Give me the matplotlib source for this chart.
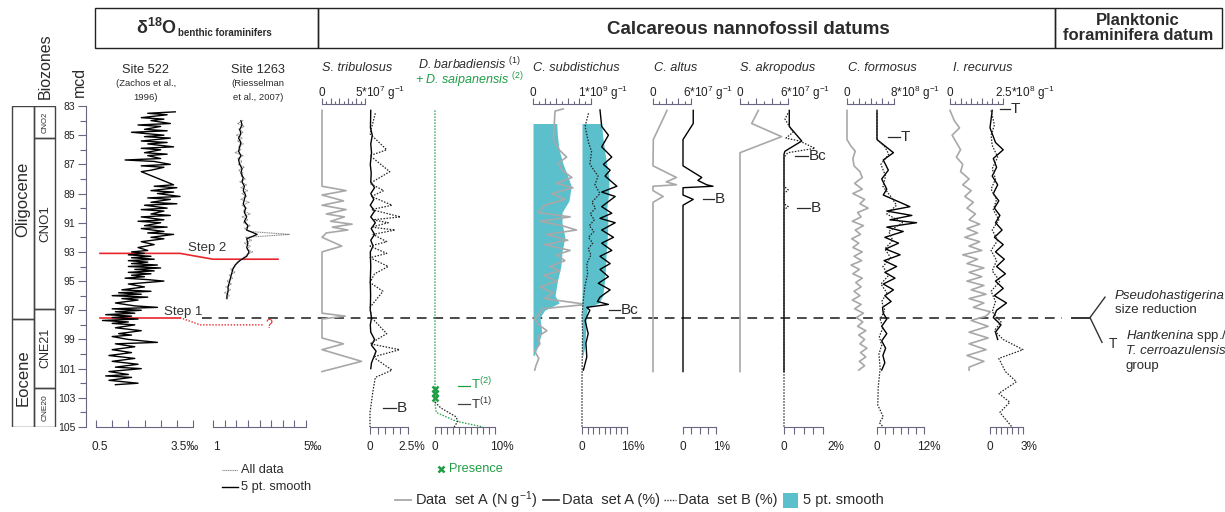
import matplotlib
matplotlib.use("Agg")
import matplotlib.pyplot as plt
from matplotlib.patches import Rectangle
from matplotlib.ticker import MultipleLocator, NullLocator

plt.rcParams['font.family'] = ['Liberation Sans', 'DejaVu Sans']
plt.rcParams['mathtext.fontset'] = 'custom'
plt.rcParams['mathtext.rm'] = 'Liberation Sans'
plt.rcParams['mathtext.it'] = 'Liberation Sans:italic'
plt.rcParams['mathtext.bf'] = 'Liberation Sans:bold'

# ---------------- data (depth in mcd) ----------------
# Site 522 benthic d18O
d522 = [83.4, 83.5, 83.6, 83.8, 83.9, 84.0, 84.2, 84.3, 84.4, 84.6,
        84.7, 84.8, 85.0, 85.1, 85.2, 85.4, 85.5, 85.6, 85.8, 85.9,
        86.0, 86.2, 86.3, 86.4, 86.6, 86.7, 86.8, 87.0, 87.1, 87.2,
        87.4, 87.5, 88.4, 88.5, 88.6, 88.8, 88.9, 89.0, 89.2, 89.3,
        89.4, 89.6, 89.7, 89.8, 90.0, 90.1, 90.2, 90.4, 90.5, 90.6,
        90.8, 90.9, 91.0, 91.2, 91.3, 91.4, 91.6, 91.7, 91.8, 92.0,
        92.1, 92.3, 92.5, 92.7, 92.9, 93.0, 93.1, 93.2, 93.3, 93.4,
        93.5, 93.6, 93.7, 93.8, 93.9, 94.0, 94.1, 94.2, 94.3, 94.4,
        94.5, 94.6, 94.7, 94.8, 94.9, 95.0, 95.2, 95.4, 95.6, 95.7,
        95.8, 95.9, 96.0, 96.1, 96.2, 96.3, 96.5, 96.7, 96.8, 96.9,
        97.0, 97.1, 97.2, 97.3, 97.4, 97.5, 97.6, 97.7, 97.8, 97.9,
        98.0, 98.2, 98.4, 98.6, 98.7, 98.8, 99.0, 99.2, 99.3, 99.5,
        99.7, 99.9, 100.1, 100.3, 100.5, 100.7, 100.9, 101.0, 101.2, 101.4,
        101.5, 101.6, 101.8, 102.0, 102.1]
o522 = [2.95, 2.1, 2.7, 1.9, 2.6, 2.2, 2.8, 1.8, 2.5, 2.0,
        2.7, 1.6, 2.6, 2.0, 2.8, 1.9, 2.7, 2.1, 2.9, 1.9,
        2.5, 2.0, 2.7, 2.1, 2.5, 1.4, 2.3, 2.8, 1.9, 2.6,
        2.2, 1.9, 2.9, 2.3, 3.0, 2.2, 2.9, 2.4, 3.1, 2.1,
        2.8, 2.2, 3.0, 2.0, 2.7, 1.9, 2.6, 2.2, 2.8, 1.9,
        2.6, 1.8, 2.5, 2.0, 2.7, 1.9, 2.6, 2.1, 2.9, 2.2,
        2.6, 1.9, 2.3, 1.8, 2.1, 1.6, 2.0, 1.5, 2.2, 1.6,
        2.3, 1.5, 2.1, 1.6, 2.4, 1.5, 2.5, 1.7, 2.3, 1.5,
        2.2, 1.6, 2.0, 1.4, 2.1, 2.6, 1.5, 2.0, 1.3, 2.2,
        1.2, 1.9, 1.0, 2.1, 1.3, 1.8, 1.1, 1.7, 2.4, 1.0,
        1.9, 1.1, 1.7, 0.8, 1.6, 1.0, 1.8, 0.7, 1.5, 1.0,
        1.7, 1.1, 1.9, 1.2, 1.6, 1.0, 1.5, 2.4, 1.1, 1.7,
        1.0, 1.6, 0.9, 1.7, 1.0, 1.8, 1.1, 1.9, 0.9, 1.5,
        0.8, 1.6, 0.9, 1.8, 1.1]

# Site 1263 benthic d18O: all data and 5 pt smooth
d1263_all = [84.0, 84.2, 84.4, 84.6, 84.8, 85.0, 85.2, 85.4, 85.6, 85.8,
             86.0, 86.2, 86.4, 86.6, 86.8, 87.0, 87.2, 87.4, 87.6, 87.8,
             88.0, 88.2, 88.4, 88.6, 88.8, 89.0, 89.2, 89.4, 89.6, 89.8,
             90.0, 90.2, 90.4, 90.6, 90.8, 91.0, 91.2, 91.4, 91.6, 91.8,
             92.0, 92.2, 92.4, 92.6, 92.8, 93.0, 93.2, 93.4, 93.6, 93.8,
             94.0, 94.2, 94.4, 94.6, 94.8, 95.0, 95.2, 95.4, 95.6, 95.8,
             96.0, 96.2]
o1263_all = [2.3, 2.05, 2.35, 2.1, 2.3, 2.0, 2.25, 2.05, 2.3, 2.1,
             2.2, 1.95, 2.3, 2.05, 2.25, 2.1, 2.35, 2.1, 2.3, 2.2,
             2.4, 2.15, 2.45, 2.2, 2.5, 2.25, 2.45, 2.2, 2.55, 2.25,
             2.45, 2.3, 2.6, 2.25, 2.5, 2.3, 2.6, 2.35, 2.55, 4.3,
             2.4, 2.65, 2.35, 2.6, 2.45, 2.7, 2.45, 2.3, 2.1, 2.0,
             1.95, 1.75, 1.95, 1.7, 1.85, 1.6, 1.8, 1.55, 1.75, 1.5,
             1.7, 1.55]
d1263_sm = [84.0, 84.3, 84.6, 84.9, 85.2, 85.5, 85.8, 86.1, 86.4, 86.7,
            87.0, 87.3, 87.6, 87.9, 88.2, 88.5, 88.8, 89.1, 89.4, 89.7,
            90.0, 90.3, 90.6, 90.9, 91.2, 91.5, 91.8, 92.1, 92.4, 92.7,
            93.0, 93.3, 93.6, 93.9, 94.2, 94.5, 94.8, 95.1, 95.4, 95.7,
            96.0, 96.2]
o1263_sm = [2.2, 2.25, 2.15, 2.2, 2.1, 2.2, 2.15, 2.1, 2.2, 2.1,
            2.15, 2.25, 2.2, 2.3, 2.25, 2.35, 2.3, 2.4, 2.35, 2.3,
            2.4, 2.35, 2.45, 2.35, 2.5, 2.45, 2.9, 2.45, 2.5, 2.45,
            2.55, 2.45, 2.15, 1.95, 1.85, 1.8, 1.75, 1.7, 1.65, 1.65,
            1.6, 1.6]

# S. tribulosus
tri_n_d = [83.3, 88.5, 88.8, 89.1, 89.5, 89.8, 90.1, 90.4, 90.6, 90.9,
           91.1, 91.3, 91.5, 91.7, 92.0, 92.6, 93.0, 97.2, 97.4, 97.6,
           98.9, 99.3, 99.7, 100.5, 101.2]
tri_n = [0, 0, 2.8, 0, 2.5, 0, 2.8, 0.5, 2.6, 1.0,
         3.5, 1.2, 3.0, 0.5, 0, 2.3, 0, 0, 2.7, 0,
         0, 2.5, 0, 4.6, 0]
tri_p_d = [83.3, 84.5, 85.0, 85.6, 86.2, 87.0, 87.6, 88.2, 88.6, 89.0,
           89.4, 89.8, 90.2, 90.6, 91.0, 91.4, 91.8, 92.2, 92.6, 93.0,
           94.0, 95.0, 96.0, 97.0, 97.5, 98.0, 98.5, 99.0, 99.4, 99.8,
           100.2, 100.6, 101.0]
tri_p = [0.05, 0.03, 0.15, 0.05, 0.1, 0.02, 0.08, 0.05, 0.3, 0.05,
         0.25, 0.02, 0.3, 0.05, 0.35, 0.08, 0.3, 0.05, 0.2, 0.02,
         0.05, 0.02, 0.04, 0.02, 0.1, 0.02, 0.05, 0.3, 0.1, 0.4,
         0.25, 0.1, 0.05]
tri_b_d = [83.5, 84.9, 86.0, 86.4, 87.5, 88.3, 88.8, 89.2, 89.8, 90.1,
           90.6, 90.8, 91.0, 91.3, 91.5, 91.8, 92.3, 92.6, 93.1, 93.4,
           94.0, 94.5, 95.1, 95.7, 96.8, 97.5, 98.6, 99.3, 99.7, 100.2,
           101.1, 101.6, 102.5, 104.0, 105.0]
tri_b = [0.35, 0.0, 1.1, 0.0, 1.3, 0.0, 0.9, 0.1, 1.45, 0.1,
         2.0, 0.2, 1.2, 0.1, 1.65, 0.2, 1.1, 0.0, 1.1, 0.0,
         1.2, 0.3, 0.0, 0.85, 0.0, 0.1, 1.1, 0.0, 1.95, 0.2,
         1.45, 0.35, 0.2, 0.0, 0.0]

# D. barbadiensis (1) / D. saipanensis (2)
barb_pres_d = [102.4, 102.7, 103.0]
barb1_d = [103.3, 103.7, 104.3, 104.6, 105.0]
barb1 = [0, 1.0, 3.5, 3.8, 3.2]
barb2_d = [83.3, 103.4, 104.0, 104.6, 105.0]
barb2 = [0, 0, 0.2, 3.5, 8.0]

# C. subdistichus
sub_n_d = [83.2, 83.35, 85.3, 86.0, 86.5, 86.9, 87.4, 87.9, 88.3, 88.6,
           89.0, 89.4, 89.8, 90.3, 90.6, 90.9, 91.2, 91.5, 91.8, 92.2,
           92.5, 92.9, 93.2, 93.6, 94.0, 94.3, 94.6, 95.0, 95.4, 95.8,
           96.2, 96.6, 96.9, 97.2, 97.6, 98.0, 98.4, 98.8, 99.3, 99.8,
           100.3, 100.8, 101.1]
sub_n = [0.52, 0.38, 0.35, 0.45, 0.58, 0.44, 0.5, 0.67, 0.40, 0.69,
         0.32, 0.55, 0.2, 0.09, 0.64, 0.12, 0.5, 0.75, 0.23, 0.6,
         0.2, 0.64, 0.41, 0.55, 0.29, 0.46, 0.18, 0.41, 0.12, 0.35,
         0.2, 0.93, 0.15, 0.12, 0.03, 0.1, 0.24, 0.08, 0.12, 0.03,
         0.1, 0.05, 0.03]
sub_fn_d = [84.2, 85.0, 86.0, 87.0, 87.8, 88.5, 89.5, 90.3, 91.0, 92.0,
            93.0, 94.0, 95.0, 96.0, 96.5, 97.0, 97.5, 98.5, 99.5, 100.1]
sub_fn = [0.41, 0.42, 0.45, 0.52, 0.6, 0.66, 0.62, 0.5, 0.5, 0.55,
          0.5, 0.48, 0.42, 0.38, 0.45, 0.2, 0.12, 0.15, 0.08, 0.02]
sub_p_d = [83.27, 84.4, 85.0, 85.8, 86.5, 87.0, 87.4, 87.8, 88.5, 88.9,
           89.2, 89.9, 90.35, 90.7, 91.0, 91.5, 92.0, 92.4, 92.9, 93.3,
           93.8, 94.2, 94.7, 95.15, 95.6, 96.1, 96.4, 96.6, 96.8, 97.0,
           97.7, 98.6, 99.25, 100.2, 101.1]
sub_p = [6.4, 7.0, 9.4, 7.0, 10.6, 7.6, 10.0, 8.2, 12.4, 7.0,
         11.8, 7.0, 10.6, 6.4, 11.8, 7.0, 11.2, 7.0, 10.6, 6.4,
         10.0, 6.4, 9.4, 5.8, 10.0, 6.4, 5.5, 9.4, 1.7, 2.8,
         1.1, 2.2, 1.4, 1.7, 0.5]
sub_fp_d = [84.2, 85.0, 86.0, 87.0, 88.0, 89.0, 90.0, 91.0, 92.0, 93.0,
            94.0, 95.0, 96.0, 96.5, 96.8, 97.5, 98.5, 99.5, 100.1]
sub_fp = [7.0, 7.3, 8.0, 8.8, 9.6, 9.5, 8.8, 9.2, 9.0, 8.6,
          8.4, 8.0, 7.4, 6.0, 2.0, 1.5, 1.3, 1.0, 0.3]
sub_b_d = [83.5, 84.4, 85.5, 86.1, 87.0, 87.8, 88.4, 89.0, 89.6, 90.0,
           90.4, 90.8, 91.2, 91.6, 92.0, 92.4, 92.8, 93.2, 93.8, 94.5,
           95.3, 96.2, 97.4, 98.5, 100.0, 102.0, 105.0]
sub_b = [2.3, 1.1, 2.3, 3.4, 2.8, 5.7, 4.6, 6.4, 3.5, 4.8,
         2.9, 4.4, 2.6, 4.2, 2.3, 3.8, 2.2, 3.2, 1.7, 2.0,
         1.1, 0.5, 0.0, 0.2, 0.1, 0.0, 0.0]

# C. altus
alt_n_d = [83.3, 83.5, 85.3, 87.1, 87.9, 88.2, 88.4, 88.5, 88.8, 89.2, 89.6, 101.2]
alt_n = [2.2, 2.0, 0.05, 0.0, 3.7, 2.1, 3.7, 0.0, 0.0, 1.6, 0.0, 0.0]
alt_p_d = [83.3, 84.2, 85.3, 87.1, 87.9, 88.1, 88.4, 88.5, 88.6, 89.1, 89.4, 89.8, 101.2]
alt_p = [0.31, 0.31, 0.0, 0.0, 0.57, 0.45, 0.72, 0.91, 0.0, 0.0, 0.31, 0.0, 0.0]

# S. akropodus
akr_n_d = [83.3, 84.2, 85.1, 86.2, 101.2]
akr_n = [2.3, 1.46, 5.2, 0.0, 0.0]
akr_p_d = [83.3, 84.4, 85.4, 86.1, 86.3, 101.2]
akr_p = [0.27, 0.27, 0.91, 0.05, 0.0, 0.0]
akr_b_d = [83.5, 83.9, 84.8, 85.2, 85.4, 85.9, 86.2, 86.5, 88.5, 88.75,
           89.0, 89.7, 89.9, 90.1, 105.0]
akr_b = [0.2, 0.05, 0.46, 0.1, 0.8, 1.59, 0.2, 0.0, 0.0, 0.22,
         0.0, 0.0, 0.22, 0.0, 0.0]

# C. formosus
for_n_d = [83.3, 85.3, 85.7, 86.1, 86.6, 87.1, 87.5, 87.9, 88.3, 88.7,
           89.0, 89.4, 89.7, 90.0, 90.3, 90.6, 90.9, 91.2, 91.5, 91.8,
           92.1, 92.4, 92.7, 93.0, 93.3, 93.6, 93.9, 94.2, 94.5, 94.8,
           95.1, 95.4, 95.7, 96.0, 96.3, 96.6, 96.9, 97.2, 97.5, 97.8,
           98.1, 98.4, 98.7, 99.0, 99.3, 99.6, 99.9, 100.2, 100.5, 100.8,
           101.1]
for_n = [0, 0, 0.6, 1.4, 1.0, 1.2, 2.2, 2.6, 1.3, 2.6,
         1.0, 3.0, 2.2, 3.6, 1.8, 2.4, 0.9, 2.8, 1.4, 2.3,
         0.8, 2.0, 1.0, 2.6, 1.2, 2.5, 0.7, 2.1, 1.0, 2.6,
         1.5, 2.4, 1.2, 2.2, 0.9, 2.4, 1.3, 2.8, 1.6, 2.7,
         1.8, 3.2, 2.0, 3.0, 2.2, 3.4, 2.3, 3.2, 2.1, 3.0,
         2.0]
for_p_d = [83.3, 85.3, 86.2, 86.7, 87.4, 88.0, 88.7, 89.1, 89.9, 90.2,
           90.5, 90.8, 91.0, 91.3, 91.6, 92.0, 92.4, 92.8, 93.2, 93.6,
           94.0, 94.4, 94.8, 95.2, 95.6, 96.0, 96.4, 96.8, 97.2, 97.6,
           98.1, 98.6, 99.1, 99.6, 100.1, 100.6, 101.1]
for_p = [0, 0, 4.2, 1.6, 2.9, 1.2, 2.5, 1.6, 8.4, 2.5,
         8.9, 3.3, 10.1, 2.5, 6.7, 2.0, 5.5, 2.2, 5.9, 1.8,
         5.0, 2.0, 4.6, 1.6, 4.2, 2.0, 3.6, 1.4, 1.6, 2.5,
         1.2, 2.5, 1.2, 2.2, 1.5, 2.0, 1.2]
for_b_d = [83.5, 85.3, 85.8, 86.3, 87.0, 87.8, 88.5, 89.2, 89.8, 90.4,
           91.0, 91.6, 92.2, 92.8, 93.4, 94.0, 94.6, 95.2, 95.8, 96.4,
           97.0, 97.6, 98.2, 98.8, 99.4, 100.0, 101.0, 102.3, 103.5, 104.3,
           104.7, 105.0]
for_b = [0, 0, 2.0, 3.0, 1.0, 2.2, 1.5, 3.5, 5.0, 2.5,
         6.5, 3.0, 4.0, 2.0, 3.5, 1.5, 3.0, 1.0, 2.5, 1.2,
         2.0, 0.8, 1.5, 0.6, 1.2, 0.5, 0.8, 0.3, 0.2, 1.6,
         0.6, 1.6]

# I. recurvus
rec_n_d = [83.3, 84.0, 84.5, 85.0, 85.5, 86.0, 86.5, 87.0, 87.5, 88.0,
           88.4, 88.8, 89.2, 89.6, 90.0, 90.4, 90.8, 91.1, 91.4, 91.7,
           92.0, 92.3, 92.6, 92.9, 93.2, 93.5, 93.8, 94.1, 94.4, 94.7,
           95.0, 95.3, 95.6, 95.9, 96.2, 96.5, 96.8, 97.1, 97.4, 97.7,
           98.1, 98.5, 98.9, 99.3, 99.7, 100.1, 100.5, 100.9, 101.1]
rec_n = [0, 0.2, 0.45, 0.1, 0.3, 0.5, 0.3, 0.6, 0.5, 0.9,
         0.6, 1.0, 0.7, 1.1, 0.8, 1.2, 0.9, 1.4, 0.8, 1.3,
         0.7, 1.4, 0.9, 1.5, 0.6, 1.3, 0.8, 1.6, 0.9, 1.5,
         0.8, 1.6, 1.0, 1.7, 0.9, 1.6, 1.1, 1.9, 1.7, 1.0,
         1.8, 0.9, 1.8, 0.9, 1.7, 0.8, 1.6, 0.9, 0.9]
rec_p_d = [83.3, 84.5, 85.5, 86.0, 86.6, 87.2, 87.8, 88.4, 89.0, 89.5,
           90.0, 90.5, 91.0, 91.5, 92.0, 92.5, 93.0, 93.5, 94.0, 94.5,
           95.0, 95.5, 96.0, 96.5, 97.0, 97.5, 98.0, 98.5, 99.0]
rec_p = [0.2, 0.0, 0.5, 1.2, 0.3, 0.6, 0.2, 0.7, 0.3, 0.8,
         0.4, 0.9, 0.5, 1.1, 0.4, 1.2, 0.5, 1.3, 0.6, 1.4,
         0.5, 1.2, 0.4, 1.5, 0.6, 0.3, 1.0, 0.5, 0.7]
rec_b_d = [83.3, 84.3, 85.0, 85.7, 86.5, 87.3, 88.0, 88.7, 89.4, 90.1,
           90.8, 91.5, 92.2, 92.9, 93.6, 94.3, 95.0, 95.7, 96.4, 97.1,
           97.8, 98.4, 99.0, 99.7, 100.3, 101.2, 101.9, 102.7, 103.3, 104.0,
           105.0]
rec_b = [0.1, 0.4, 0.1, 0.2, 0.7, 0.2, 0.5, 0.1, 0.6, 0.3,
         0.8, 0.2, 0.7, 0.1, 0.6, 0.2, 0.9, 0.1, 0.5, 0.2,
         1.0, 0.4, 1.2, 3.0, 0.8, 1.4, 2.4, 0.8, 1.8, 0.9,
         2.0]

# biozones / events
epochs = ['Oligocene', 'Eocene']
epoch_bounds = [83, 97.6, 105]
zones = ['CNO2', 'CNO1', 'CNE21', 'CNE20']
zone_bounds = [83, 85.2, 96.9, 102.3, 105]
zone_sizes = [5.5, 9.5, 9, 6]
depth_major = [83, 85, 87, 89, 91, 93, 95, 97, 99, 101, 103, 105]
depth_minor = [84, 86, 88, 90, 92, 94, 96, 98, 100, 102, 104]
step2_522, step2_1263 = 93.1, 93.5
step1_522, step1_1263 = 97.5, 98.0
foram_datum = 97.5

# ---------------- styling ----------------
GRAY = '#a8a8a8'
GREEN = '#1f9e45'
CYAN = '#5bc0cc'
RED = '#e8262b'
AXC = '#6b6680'
TXT = '#2b2b2b'

W, H = 1225, 512
TOP, BOT = 106, 427

fig = plt.figure(figsize=(W / 100, H / 100), dpi=100)

fr = fig.add_axes([0, 0, 1, 1])
fr.set_xlim(0, W)
fr.set_ylim(H, 0)
fr.axis('off')

dep = fig.add_axes([0, 1 - BOT / H, 1, (BOT - TOP) / H])
dep.set_xlim(0, W)
dep.set_ylim(105, 83)
dep.axis('off')


def panel(x0, x1, lo, hi):
    ax = fig.add_axes([x0 / W, 1 - BOT / H, (x1 - x0) / W, (BOT - TOP) / H])
    ax.set_xlim(lo, hi)
    ax.set_ylim(105, 83)
    ax.set_facecolor('none')
    for s in ax.spines.values():
        s.set_visible(False)
    ax.set_yticks([])
    ax.tick_params(axis='x', which='both', bottom=False, top=False,
                   labelbottom=False, labeltop=False)
    return ax


def top_axis(ax, major, minor):
    ax.spines['top'].set_visible(True)
    ax.spines['top'].set_color(AXC)
    ax.spines['top'].set_position(('outward', 1.5))
    ax.xaxis.set_major_locator(MultipleLocator(major))
    ax.xaxis.set_minor_locator(MultipleLocator(minor))
    ax.tick_params(axis='x', which='both', top=True, direction='out',
                   color=AXC, width=0.8)
    ax.tick_params(axis='x', which='major', length=4.5)
    ax.tick_params(axis='x', which='minor', length=2.5)


def bottom_axis(ax, step, direction='out'):
    ax.spines['bottom'].set_visible(True)
    ax.spines['bottom'].set_color(AXC)
    ax.xaxis.set_major_locator(MultipleLocator(step))
    ax.xaxis.set_minor_locator(NullLocator())
    ax.tick_params(axis='x', which='major', bottom=True, direction=direction,
                   length=5, width=0.8, color=AXC)


def n_line(ax, v, d):
    ax.plot(v, d, color=GRAY, lw=1.2, clip_on=False, zorder=3)


def p_line(ax, v, d):
    ax.plot(v, d, color='k', lw=1.0, clip_on=False, zorder=4)


def b_line(ax, v, d):
    ax.plot(v, d, color='#222222', lw=0.9, ls=(0, (1.2, 1.2)), clip_on=False, zorder=4)


# depth axis
dax = fig.add_axes([86 / W, 1 - BOT / H, 1 / W, (BOT - TOP) / H])
dax.set_ylim(105, 83)
dax.set_facecolor('none')
for k in ['top', 'right', 'bottom']:
    dax.spines[k].set_visible(False)
dax.spines['left'].set_color(AXC)
dax.set_xticks([])
dax.set_yticks(depth_major)
dax.set_yticks(depth_minor, minor=True)
dax.tick_params(axis='y', which='major', length=5.5, width=0.8, color=AXC,
                labelsize=7.5, labelcolor='#222222', pad=2)
dax.tick_params(axis='y', which='minor', length=4, width=0.8, color=AXC)

# d18O panels
a522 = panel(96, 193, 0.5, 3.5)
bottom_axis(a522, 0.5, 'in')
a522.plot(o522, d522, color='k', lw=1.0, clip_on=False)

a1263 = panel(213, 306, 1, 5)
bottom_axis(a1263, 0.5, 'in')
a1263.plot(o1263_all, d1263_all, color='#8a8a8a', lw=0.8, ls=(0, (1, 0.6)), clip_on=False)
a1263.plot(o1263_sm, d1263_sm, color='k', lw=0.9, clip_on=False)

# S. tribulosus
tn = panel(322, 365, 0, 5)
top_axis(tn, 1, 0.5)
n_line(tn, tri_n, tri_n_d)
tp = panel(370, 408, 0, 2.5)
bottom_axis(tp, 0.5)
p_line(tp, tri_p, tri_p_d)
b_line(tp, tri_b, tri_b_d)

# D. barbadiensis / saipanensis
bp = panel(435, 495, 0, 10)
bottom_axis(bp, 1)
bp.plot(barb2, barb2_d, color=GREEN, lw=0.9, ls=(0, (1.2, 1.2)), clip_on=False)
bp.plot(barb1, barb1_d, color='#222222', lw=0.9, ls=(0, (1.2, 1.2)), clip_on=False)
bp.plot([0] * len(barb_pres_d), barb_pres_d, ls='none', marker='x', ms=5,
        mew=1.8, color=GREEN, clip_on=False)

# C. subdistichus
sn = panel(533, 591, 0, 1)
top_axis(sn, 0.2, 0.1)
sn.fill_betweenx(sub_fn_d, 0, sub_fn, color=CYAN, lw=0, zorder=1)
n_line(sn, sub_n, sub_n_d)
sp = panel(582, 627, 0, 16)
bottom_axis(sp, 2)
sp.fill_betweenx(sub_fp_d, 0, sub_fp, color=CYAN, lw=0, zorder=1)
b_line(sp, sub_b, sub_b_d)
p_line(sp, sub_p, sub_p_d)

# C. altus
an = panel(653, 691, 0, 6)
top_axis(an, 2, 1)
n_line(an, alt_n, alt_n_d)
ap = panel(683, 716, 0, 1)
bottom_axis(ap, 0.25)
p_line(ap, alt_p, alt_p_d)

# S. akropodus
kn = panel(740, 788, 0, 6)
top_axis(kn, 2, 1)
n_line(kn, akr_n, akr_n_d)
kp = panel(784, 823, 0, 2)
bottom_axis(kp, 0.5)
p_line(kp, akr_p, akr_p_d)
b_line(kp, akr_b, akr_b_d)

# C. formosus
fn = panel(847, 894, 0, 8)
top_axis(fn, 2, 1)
n_line(fn, for_n, for_n_d)
fp = panel(877, 924, 0, 12)
bottom_axis(fp, 2)
p_line(fp, for_p, for_p_d)
b_line(fp, for_b, for_b_d)

# I. recurvus
rn = panel(950, 1003, 0, 2.5)
top_axis(rn, 0.5, 0.25)
n_line(rn, rec_n, rec_n_d)
rp = panel(990, 1023, 0, 3)
bottom_axis(rp, 0.5)
p_line(rp, rec_p, rec_p_d)
b_line(rp, rec_b, rec_b_d)

# ---------------- biozone column ----------------
for i, name in enumerate(epochs):
    d0, d1 = epoch_bounds[i], epoch_bounds[i + 1]
    dep.add_patch(Rectangle((12, d0), 22, d1 - d0, fill=False, ec='#444444', lw=1))
    dep.text(23, (d0 + d1) / 2 + (0.3 if i == 1 else -0.9), name, rotation=90,
             ha='center', va='center', fontsize=12, color=TXT)
for i, name in enumerate(zones):
    d0, d1 = zone_bounds[i], zone_bounds[i + 1]
    dep.add_patch(Rectangle((34, d0), 21, d1 - d0, fill=False, ec='#444444', lw=1))
    dep.text(45, (d0 + d1) / 2, name, rotation=90, ha='center', va='center',
             fontsize=zone_sizes[i], color=TXT)

# step lines
dep.plot([100, 180, 213, 278], [step2_522, step2_522, step2_1263, step2_1263], color=RED, lw=1.2)
dep.plot([100, 180], [step1_522, step1_522], color=RED, lw=1.2)
dep.plot([180, 200, 263], [step1_522, step1_1263, step1_1263], color=RED, lw=1, ls=(0, (1, 1.2)))
dep.text(266, step1_1263, '?', color=RED, fontsize=9, ha='left', va='center')
dep.text(188, 92.75, 'Step 2', fontsize=9.5, color='#333333', ha='left', va='center')
dep.text(164, 97.1, 'Step 1', fontsize=9.5, color='#333333', ha='left', va='center')

# planktonic foram datum
dep.plot([202, 1062], [foram_datum, foram_datum], color='#4a4a4a', lw=1.4, ls=(0, (5, 3.5)))
dep.plot([1072, 1090], [foram_datum, foram_datum], color='#333333', lw=1.4)
dep.plot([1090, 1105], [foram_datum, 96.1], color='#333333', lw=1)
dep.plot([1090, 1102], [foram_datum, 99.2], color='#333333', lw=1)

# datum markers
marks = [(383, 396, 103.7, 'B'), (609, 620, 97.0, 'Bc'), (703, 714, 89.4, 'B'),
         (795, 808, 86.4, 'Bc'), (797, 810, 90.0, 'B'), (888, 900, 85.1, 'T'),
         (1000, 1010, 83.2, 'T')]
for x0, x1, d, lab in marks:
    dep.plot([x0, x1], [d, d], color=TXT, lw=0.9, clip_on=False)
    dep.text(x1 + 1, d, lab, fontsize=11, color=TXT, ha='left', va='center')
dep.plot([458, 470], [102.2, 102.2], color=GREEN, lw=0.9)
dep.text(471, 102.05, r'T$^{(2)}$', fontsize=9.5, color=GREEN, ha='left', va='center')
dep.plot([458, 470], [103.4, 103.4], color='#444444', lw=0.9)
dep.text(471, 103.4, r'T$^{(1)}$', fontsize=9.5, color='#333333', ha='left', va='center')

# ---------------- headers & labels ----------------
for x0, x1 in [(95, 318), (318, 1055), (1055, 1222)]:
    fr.add_patch(Rectangle((x0, 8), x1 - x0, 40, fill=False, ec='#222222', lw=1))
fr.text(177, 34, r'δ$^{\mathbf{18}}$O', ha='right', va='baseline', fontsize=13, fontweight='bold', color=TXT)
fr.text(178, 36, 'benthic foraminifers', ha='left', va='baseline', fontsize=7, fontweight='bold', color=TXT)
fr.text(748, 29, 'Calcareous nannofossil datums', ha='center', va='center', fontsize=13.5,
        fontweight='bold', color=TXT)
fr.text(1138, 28, 'Planktonic\nforaminifera datum', ha='center', va='center', fontsize=12,
        fontweight='bold', color=TXT, linespacing=1.0)

fr.text(45, 66, 'Biozones', rotation=90, ha='center', va='center', fontsize=11.5, color=TXT)
fr.text(79, 82, 'mcd', rotation=90, ha='center', va='center', fontsize=11.5, color=TXT)

fr.text(146, 70, 'Site 522', ha='center', va='center', fontsize=9.2, color=TXT)
fr.text(146, 84, '(Zachos et al.,', ha='center', va='center', fontsize=6.8, color=TXT)
fr.text(146, 97, '1996)', ha='center', va='center', fontsize=6.8, color=TXT)
fr.text(258, 70, 'Site 1263', ha='center', va='center', fontsize=9.2, color=TXT)
fr.text(258, 84, '(Riesselman', ha='center', va='center', fontsize=6.8, color=TXT)
fr.text(258, 97, 'et al., 2007)', ha='center', va='center', fontsize=6.8, color=TXT)

titles = [(322, 'S. tribulosus'), (533, 'C. subdistichus'), (654, 'C. altus'),
          (740, 'S. akropodus'), (848, 'C. formosus'), (953, 'I. recurvus')]
for x, t in titles:
    fr.text(x, 68, t, ha='left', va='center', fontsize=9.2, style='italic', color=TXT)
fr.text(469, 64, r'D. barbadiensis $^{(1)}$', ha='center', va='center', fontsize=9,
        style='italic', color=TXT)
fr.text(469, 80, r'+ D. saipanensis $^{(2)}$', ha='center', va='center', fontsize=9,
        style='italic', color=GREEN)

top_labels = [(322, 355, r'5*10$^7$ g$^{-1}$'), (533, 578, r'1*10$^9$ g$^{-1}$'),
              (653, 683, r'6*10$^7$ g$^{-1}$'), (740, 780, r'6*10$^7$ g$^{-1}$'),
              (847, 890, r'8*10$^8$ g$^{-1}$'), (950, 995, r'2.5*10$^8$ g$^{-1}$')]
for x0, xl, t in top_labels:
    fr.text(x0, 93, '0', ha='center', va='center', fontsize=8.5, color='#222222')
    fr.text(xl, 93, t, ha='left', va='center', fontsize=8.5, color='#222222')

bottom_labels = [(100, '0.5'), (185, '3.5‰'), (216, '1'), (313, '5‰'),
                 (370, '0'), (412, '2.5%'), (435, '0'), (502, '10%'),
                 (582, '0'), (633, '16%'), (683, '0'), (722, '1%'),
                 (784, '0'), (836, '2%'), (877, '0'), (929, '12%'),
                 (990, '0'), (1029, '3%')]
for x, t in bottom_labels:
    fr.text(x, 447, t, ha='center', va='center', fontsize=8.5, color='#222222')

# Site 1263 legend
fr.plot([222, 238], [470, 470], color='#8a8a8a', lw=0.8, ls=(0, (1, 0.6)))
fr.text(241, 470, 'All data', ha='left', va='center', fontsize=9.2, color=TXT)
fr.plot([222, 238], [487, 487], color='k', lw=1)
fr.text(241, 487, '5 pt. smooth', ha='left', va='center', fontsize=9.2, color=TXT)

# presence legend
fr.plot([441], [469], ls='none', marker='x', ms=5, mew=1.8, color=GREEN)
fr.text(449, 469, 'Presence', ha='left', va='center', fontsize=9.2, color=GREEN)

# main legend
fr.plot([395, 411], [500, 500], color=GRAY, lw=1.3)
fr.text(415, 500, r'Data  set A (N g$^{-1}$)', ha='left', va='center', fontsize=10.5, color=TXT)
fr.plot([543, 559], [500, 500], color='#333333', lw=1.2)
fr.text(562, 500, 'Data  set A (%)', ha='left', va='center', fontsize=10.5, color=TXT)
fr.plot([664, 676], [500, 500], color='#333333', lw=1, ls=(0, (1, 1)))
fr.text(678, 500, 'Data  set B (%)', ha='left', va='center', fontsize=10.5, color=TXT)
fr.add_patch(Rectangle((783, 493), 15, 15, color=CYAN, lw=0))
fr.text(803, 500, '5 pt. smooth', ha='left', va='center', fontsize=10.5, color=TXT)

# foram datum text
fr.text(1115, 296, 'Pseudohastigerina', ha='left', va='center', fontsize=9.5, style='italic', color=TXT)
fr.text(1115, 310, 'size reduction', ha='left', va='center', fontsize=9.5, color=TXT)
fr.text(1113, 344, 'T', ha='center', va='center', fontsize=10, color=TXT)
fr.text(1126, 336, r'$\mathit{Hantkenina}$ spp./', ha='left', va='center', fontsize=9.5, color=TXT)
fr.text(1126, 351, 'T. cerroazulensis', ha='left', va='center', fontsize=9.5, style='italic', color=TXT)
fr.text(1126, 366, 'group', ha='left', va='center', fontsize=9.5, color=TXT)

fig.savefig('out.png', dpi=100, facecolor='white')
